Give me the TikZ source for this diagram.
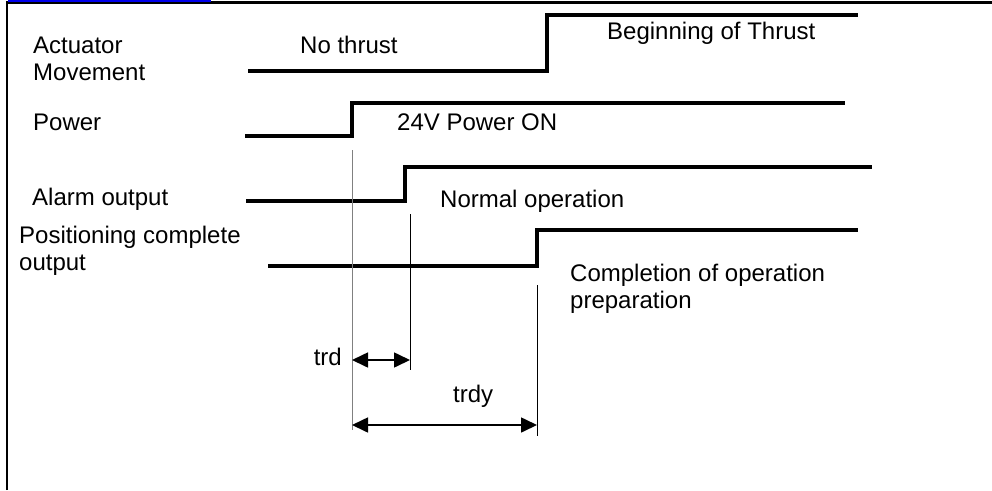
\documentclass[tikz,border=0pt]{standalone}
\usepackage{fontspec}
\setmainfont{Liberation Sans}
\usetikzlibrary{arrows.meta}

\begin{document}
\begin{tikzpicture}[x=1pt, y=-1pt, line join=miter,
    sig/.style={line width=4.8pt},
    guide/.style={line width=1pt},
    lbl/.style={anchor=base west, inner sep=0pt, align=left,
      font=\fontsize{24}{27}\selectfont},
    dim/.style={{Triangle[length=16pt,width=15pt]}-{Triangle[length=16pt,width=15pt]},
      line width=1.6pt}]
  \definecolor{linkblue}{RGB}{0,0,235}
  \useasboundingbox (0,0) rectangle (992,490);
  % frame
  \draw[line width=2.5pt] (7,490) -- (7,2.5) -- (992,2.5);
  \fill[linkblue] (8,0) rectangle (211,2.2);

  % labels on the left (base = last line)
  \node[lbl] (actlbl) at (33,80) {Actuator\\Movement};
  \node[lbl] (pwrlbl) at (33,130) {Power};
  \node[lbl] (almlbl) at (32,205) {Alarm output};
  \node[lbl] (poslbl) at (19,270) {Positioning complete\\output};

  % signals
  \draw[sig] (248,71) -- (547,71) -- (547,15) -- (858,15);
  \draw[sig] (245,136) -- (352,136) -- (352,103) -- (845,103);
  \draw[sig] (246,201) -- (405,201) -- (405,167) -- (872,167);
  \draw[sig] (268,266) -- (537,266) -- (537,230) -- (858,230);

  \node[lbl] (nothrust) at (300,53) {No thrust};
  \node[lbl] (thrust) at (607,39) {Beginning of Thrust};
  \node[lbl] (pwron) at (397,130) {24V Power ON};
  \node[lbl] (normal) at (440,207) {Normal operation};
  \node[lbl] (ready) at (570,308) {Completion of operation\\preparation};

  % timing guides
  \coordinate (g1top) at (352,150);
  \coordinate (g1bot) at (352,430);
  \coordinate (g2top) at (410,214);
  \coordinate (g2bot) at (410,370);
  \coordinate (g3top) at (537,285);
  \coordinate (g3bot) at (537,436);
  \draw[guide, gray] (g1top) -- (g1bot);
  \draw[guide] (g2top) -- (g2bot);
  \draw[guide] (g3top) -- (g3bot);

  \coordinate (trdL) at (352,360);
  \coordinate (trdR) at (410,360);
  \coordinate (trdyL) at (352,425);
  \coordinate (trdyR) at (537,425);
  \draw[dim] (trdL) -- (trdR);
  \draw[dim] (trdyL) -- (trdyR);
  \node[lbl, anchor=base east] (trd) at (342,365) {trd};
  \node[lbl] (trdy) at (453,402) {trdy};
\end{tikzpicture}
\end{document}
